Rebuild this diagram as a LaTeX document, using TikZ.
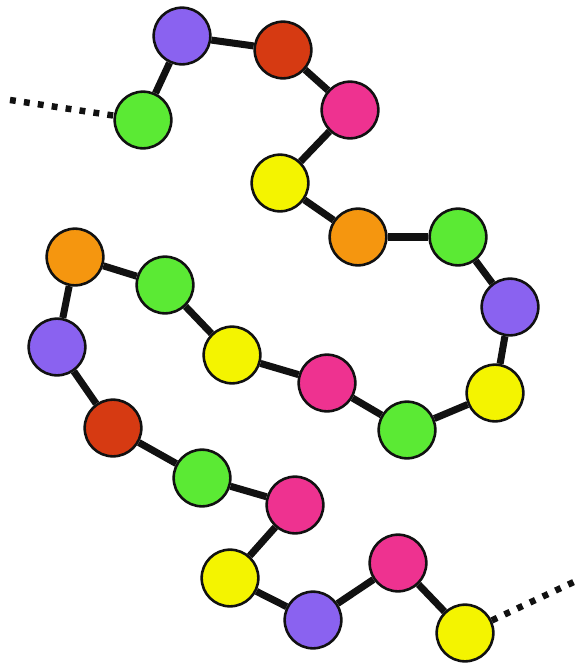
\documentclass[tikz,border=0pt]{standalone}
\definecolor{BeadGreen}{HTML}{5BEA34}
\definecolor{BeadPurple}{HTML}{8A62F0}
\definecolor{BeadRed}{HTML}{D63A12}
\definecolor{BeadPink}{HTML}{EE3290}
\definecolor{BeadYellow}{HTML}{F4F400}
\definecolor{BeadOrange}{HTML}{F5960F}
\definecolor{Ink}{HTML}{111111}

\begin{document}
\begin{tikzpicture}[x=0.03cm,y=-0.03cm,bead/.style={circle,draw=Ink,line width=2.2pt,minimum size=1.7cm,inner sep=0pt},link/.style={Ink,line width=6pt},tail/.style={Ink,line width=5.5pt,dash pattern=on 5pt off 7pt}]
\useasboundingbox (0,0) rectangle (587,670);
\foreach \n/\x/\y/\c in {1/143/120/BeadGreen,2/182/36/BeadPurple,3/283/50/BeadRed,4/350/110/BeadPink,5/280/183/BeadYellow,6/358/237/BeadOrange,7/458/237/BeadGreen,8/510/307/BeadPurple,9/495/393/BeadYellow,10/407/430/BeadGreen,11/327/383/BeadPink,12/232/355/BeadYellow,13/165/285/BeadGreen,14/75/257/BeadOrange,15/57/347/BeadPurple,16/113/428/BeadRed,17/202/478/BeadGreen,18/295/505/BeadPink,19/230/578/BeadYellow,20/313/620/BeadPurple,21/398/563/BeadPink,22/465/633/BeadYellow}
  {\node[bead,fill=\c] (b\n) at (\x,\y){};}
\foreach \i in {1,...,21}{\pgfmathtruncatemacro\j{\i+1}\draw[link] (b\i)--(b\j);}
\coordinate (start) at (10,100); \coordinate (finish) at (578,580);
\draw[tail] (start)--(b1); \draw[tail] (b22)--(finish);
\end{tikzpicture}
\end{document}
